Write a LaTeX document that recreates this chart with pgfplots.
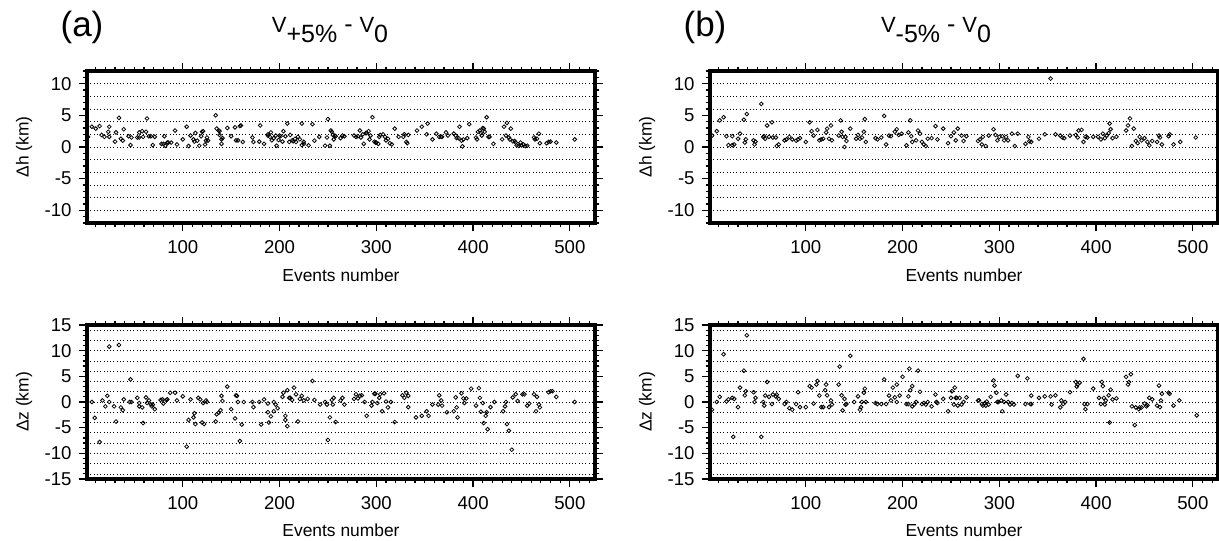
\documentclass[border=0pt]{standalone}
\usepackage{fontspec}
\setmainfont{Liberation Sans}
\usepackage{pgfplots}
\pgfplotsset{compat=1.18}

% GMT-like frame: thick box, outside ticks, dotted horizontal grid every 2
\pgfplotsset{
  gmt/.style={
    scale only axis, width=254pt, anchor=south west,
    xmin=1, xmax=526, clip mode=individual,
    xtick={100,200,300,400,500}, xticklabels={100,200,300,400,500},
    minor xtick={10,20,...,520},
    tick align=outside,
    major tick length=4.2pt, minor tick length=2.2pt,
    tick style={black, line width=0.6pt},
    axis line style={line width=1.5pt},
    tick label style={font=\fontsize{9.3}{11}\selectfont},
    xticklabel style={yshift=-1pt},
    label style={font=\fontsize{8.7}{10}\selectfont},
    xlabel={Events number},
    extra y tick labels={},
    extra y tick style={grid=major, major tick length=0pt},
    grid style={black, line width=0.35pt, dash pattern=on 0.4pt off 1.25pt},
  },
  pts/.style={black, only marks, mark=o, mark size=0.95pt, mark options={black, line width=0.4pt}},
  toprow/.style={
    height=76pt, ymin=-12, ymax=12,
    ytick={-10,-5,0,5,10}, yticklabels={-10,-5,0,5,10},
    minor ytick={-12,...,12}, extra y ticks={-10,-8,...,10},
    ylabel={Δh (km)},
    xlabel style={at={(axis description cs:0.5,-0.342)}, anchor=center},
    ylabel style={at={(axis description cs:-0.124,0.5)}, anchor=center},
  },
  botrow/.style={
    height=77pt, ymin=-15, ymax=15,
    ytick={-15,-10,-5,0,5,10,15}, yticklabels={-15,-10,-5,0,5,10,15},
    minor ytick={-15,...,15}, extra y ticks={-14,-12,...,14},
    ylabel={Δz (km)},
    xlabel style={at={(axis description cs:0.5,-0.331)}, anchor=center},
    ylabel style={at={(axis description cs:-0.124,0.5)}, anchor=center},
  },
}
\newcommand\frameit{\draw[line width=1.6pt, line join=miter] (rel axis cs:0,0) rectangle (rel axis cs:1,1);}

\begin{document}
\begin{tikzpicture}
\path[use as bounding box] (0,0) rectangle (609.5pt,270pt);

% (a) top: dh
\begin{axis}[gmt, toprow, at={(43.5pt,158.5pt)}]
\addplot[pts] coordinates {(2,1.6)(6,3.2)(10,2.9)(14,3.3)(16,1.9)(19,1.6)(23,2.4)(24,3.2)(24,1.6)(30,0.85)(31,2.3)(34,4.6)(36,1.3)(38,1.0)(39,2.8)(44,1.7)(46,0.3)(47,1.5)(53,1.5)(55,1.5)(55,2.3)(58,2.5)(59,1.6)(62,2.4)(63,4.5)(65,1.7)(67,1.7)(69,0.3)(71,1.6)(78,0.5)(80,0.5)(81,1.7)(82,0.2)(84,0.7)(85,0.7)(88,0.7)(92,2.6)(94,0.4)(100,1.2)(104,3.2)(106,0.15)(108,1.8)(111,1.2)(112,0.85)(113,2.2)(115,1.0)(117,0.2)(119,1.7)(120,2.4)(121,2.5)(123,0.4)(124,1.0)(125,1.5)(126,1.0)(134,5.0)(135,2.9)(137,2.6)(138,2.5)(138,1.9)(140,1.2)(140,0.5)(141,1.4)(146,3.0)(150,1.7)(154,3.1)(155,1.05)(157,1.05)(159,3.3)(160,3.4)(162,0.8)(172,1.5)(173,0.8)(179,0.85)(180,3.4)(184,0.5)(188,1.8)(188,2.0)(190,1.6)(191,2.3)(192,1.05)(194,1.4)(196,1.8)(197,0.2)(199,1.1)(200,1.8)(201,1.7)(203,0.85)(204,2.5)(206,1.7)(208,3.7)(210,0.8)(211,1.9)(213,1.05)(214,0.9)(216,1.3)(217,0.8)(219,1.6)(221,1.2)(223,0.3)(223,3.7)(225,0.8)(225,0.5)(230,0.26)(234,3.6)(236,1.0)(241,1.6)(247,0.2)(249,1.5)(250,4.4)(252,0.2)(253,2.6)(254,2.4)(255,1.9)(256,1.2)(257,1.8)(258,1.7)(263,1.4)(265,1.8)(267,1.7)(277,1.8)(279,1.6)(281,1.7)(283,2.6)(284,1.5)(286,2.0)(287,0.5)(289,2.2)(290,2.2)(292,2.5)(293,1.2)(294,1.8)(296,4.7)(298,0.85)(299,0.7)(300,0.7)(302,0.5)(303,1.6)(304,1.9)(307,2.0)(309,1.6)(310,1.05)(312,1.3)(314,0.6)(316,0.4)(319,2.9)(323,1.6)(328,1.6)(329,2.0)(331,0.8)(332,0.6)(333,1.9)(342,2.6)(347,3.2)(352,2.0)(353,3.7)(358,1.2)(362,2.1)(365,1.6)(367,1.6)(368,1.6)(372,2.3)(374,1.8)(380,2.1)(382,1.8)(383,1.4)(385,1.4)(386,3.2)(388,1.0)(389,0.1)(390,1.2)(394,1.4)(396,3.6)(403,1.5)(404,1.2)(405,2.4)(407,2.6)(408,2.2)(409,1.8)(410,3.0)(411,2.9)(412,2.4)(414,4.7)(416,1.6)(417,1.6)(421,0.5)(430,1.2)(432,3.2)(434,1.8)(435,3.8)(437,1.5)(438,1.2)(439,2.9)(441,0.9)(443,0.95)(444,0.7)(445,0.26)(447,0.2)(449,0.7)(450,0.26)(452,0.4)(454,0.15)(456,0.2)(463,1.5)(464,1.2)(466,1.3)(468,2.1)(469,0.6)(476,0.6)(478,0.8)(480,0.85)(486,0.7)(505,1.2)(526,0)};
\frameit
\end{axis}

% (b) top: dh
\begin{axis}[gmt, toprow, at={(355pt,158.5pt)}]
\addplot[pts] coordinates {(3,1.8)(8,2.5)(11,4.2)(15,4.7)(18,1.7)(20,0.3)(24,1.7)(24,0.3)(26,0.4)(30,1.3)(32,2.1)(36,4.3)(37,0.7)(38,1.2)(39,5.2)(46,1.05)(47,0.4)(48,0.85)(54,6.8)(56,1.6)(57,1.7)(58,1.3)(60,3.4)(62,1.6)(65,3.9)(66,1.5)(69,1.5)(70,0.15)(72,0.4)(78,1.05)(80,1.2)(83,1.6)(86,1.2)(90,1.0)(92,1.2)(94,1.4)(100,0.8)(104,3.9)(106,2.5)(108,1.8)(112,2.7)(114,1.05)(116,1.2)(118,1.3)(121,2.3)(122,2.9)(124,1.3)(126,3.4)(127,1.05)(134,1.8)(136,4.2)(137,2.4)(138,1.6)(140,0)(141,1.6)(142,0.95)(146,2.9)(152,1.3)(154,1.9)(156,1.3)(158,1.5)(160,2.4)(161,4.4)(162,0.8)(172,1.4)(174,1.2)(178,1.5)(181,4.9)(183,0.4)(186,1.8)(188,1.7)(192,2.4)(194,2.8)(196,1.9)(199,2.1)(204,0.26)(206,2.3)(208,4.2)(209,1.7)(210,0.8)(214,1.05)(216,2.6)(218,2.1)(220,0.8)(222,0.4)(224,0.15)(226,1.3)(230,1.4)(234,3.3)(236,1.2)(242,2.9)(247,0.6)(250,1.7)(253,2.3)(255,1.05)(257,2.9)(261,1.8)(263,0.95)(266,1.7)(278,0.95)(280,1.2)(282,0.4)(283,1.6)(286,0.15)(289,1.8)(294,2.8)(296,1.9)(298,1.05)(300,1.6)(303,1.7)(305,1.05)(307,1.6)(309,1.05)(313,2.1)(316,0.15)(319,2.1)(327,0.5)(330,1.6)(331,0.9)(333,0.8)(341,1.3)(347,2.0)(353,10.8)(358,2.0)(363,1.8)(365,1.5)(367,1.4)(373,1.8)(379,1.9)(381,1.5)(382,2.6)(385,2.7)(387,0.8)(389,1.6)(391,1.5)(397,1.6)(402,1.6)(405,1.2)(407,2.1)(409,1.4)(411,1.8)(413,2.2)(414,3.7)(415,2.8)(417,1.4)(421,1.6)(431,2.6)(433,3.4)(435,4.5)(437,0.15)(439,2.9)(441,0.95)(443,0.6)(445,1.6)(447,1.05)(450,1.4)(453,0.8)(455,0.26)(458,0.95)(463,0.8)(465,1.8)(466,1.5)(468,0.4)(475,1.7)(476,2.0)(480,0.4)(487,0.8)(503,1.5)(526,0)};
\frameit
\end{axis}

% (a) bottom: dz
\begin{axis}[gmt, botrow, at={(43.5pt,30.5pt)}]
\addplot[pts] coordinates {(1,0)(6,0)(9,-3.1)(14,-7.8)(17,0.3)(20,-0.85)(22,1.2)(24,10.8)(24,0)(29,-0.85)(31,-3.8)(34,11.1)(36,-1.05)(38,-1.6)(39,0.5)(45,0)(46,4.4)(47,0)(53,0.8)(55,-0.2)(55,-0.85)(58,-1.05)(59,-4.1)(62,0.9)(63,-0.2)(65,0.3)(67,-0.5)(68,-0.85)(69,-0.5)(71,-1.4)(77,0.4)(79,0.5)(80,-0.3)(83,0.4)(84,0.5)(87,1.8)(92,1.8)(94,0.3)(100,1.1)(104,-8.7)(106,-3.5)(108,0.5)(111,-3.0)(112,-2.2)(113,-4.3)(116,0.8)(118,0.5)(120,-4.0)(121,-0.2)(122,-4.3)(124,0.3)(125,0)(134,-3.8)(135,-2.4)(137,-2.1)(139,-1.6)(140,1.2)(141,0.2)(146,3.0)(150,-1.4)(154,-3.2)(155,1.3)(156,1.2)(157,0)(159,-7.6)(161,-4.4)(163,0)(172,0)(173,-1.0)(179,0)(181,-4.4)(184,0.5)(188,-2.0)(188,-0.3)(189,-4.0)(191,-2.8)(194,0)(194,-1.8)(196,-0.5)(198,-1.2)(203,1.0)(204,1.8)(206,-2.7)(206,-3.5)(208,-4.7)(208,2.3)(210,0.8)(211,0.8)(213,0.4)(215,2.8)(217,1.5)(219,-3.8)(221,0.6)(223,1.2)(225,0.3)(229,0.6)(234,4.1)(236,0.4)(242,-0.5)(247,0)(249,-0.5)(250,-7.4)(252,-3.0)(254,0.4)(255,-0.5)(256,0.8)(258,-3.9)(263,0.3)(265,0.8)(267,-0.5)(277,0.6)(279,1.5)(281,0.7)(283,1.2)(285,1.3)(288,0)(290,-2.7)(295,-0.7)(296,0)(298,1.6)(299,1.6)(301,-0.2)(303,0.8)(304,1.5)(306,-1.8)(308,1.7)(310,0.1)(312,-1.05)(315,0)(319,-3.9)(327,1.3)(329,0.8)(331,1.8)(333,-1.0)(333,1.2)(341,-3.0)(347,-2.7)(352,-1.8)(354,-2.7)(358,-0.5)(364,-0.5)(365,1.3)(367,0.3)(368,-0.7)(373,-2.0)(380,-1.8)(382,0.9)(383,-1.05)(384,-3.0)(388,1.7)(390,0.7)(391,-0.2)(393,0.7)(398,2.6)(403,-0.7)(406,2.7)(407,0.8)(408,-1.9)(410,-0.2)(411,-4.1)(413,-2.7)(414,-2.0)(415,-5.3)(418,-1.0)(422,0)(431,-1.8)(433,-0.85)(434,0)(435,-4.3)(437,-5.6)(440,-9.3)(441,0.9)(444,1.5)(446,0.2)(451,1.5)(453,1.5)(456,-0.7)(458,-0.3)(463,1.5)(465,-1.8)(466,1.0)(468,-0.5)(469,-1.05)(478,1.9)(480,2.1)(482,2.1)(486,1.0)(505,0)(526,0)};
\frameit
\end{axis}

% (b) bottom: dz
\begin{axis}[gmt, botrow, at={(355pt,30.5pt)}]
\addplot[pts] coordinates {(3,-1.5)(8,0)(11,1.0)(15,9.3)(18,0.1)(20,0.5)(24,0.8)(25,-6.8)(26,0.6)(30,-1.0)(32,2.8)(36,6.1)(37,1.3)(38,2.1)(39,13.0)(46,1.9)(47,0)(48,0.8)(54,-6.8)(56,0)(57,-0.7)(58,1.25)(60,3.9)(62,1.0)(65,-0.4)(66,1.45)(69,1.1)(70,1.45)(72,0.6)(78,-0.4)(80,0)(83,-1.2)(86,-1.5)(90,-0.4)(92,1.9)(94,-1.0)(100,-1.0)(104,3.1)(106,2.8)(108,-0.3)(111,3.4)(112,4.1)(114,1.25)(116,-1.0)(118,-1.0)(120,2.3)(121,3.4)(122,1.3)(124,-1.0)(126,0.3)(127,-0.5)(134,3.4)(135,6.9)(137,1.3)(138,-1.65)(140,0.6)(141,-0.5)(142,-0.4)(146,9.0)(150,0)(154,1.1)(156,-1.5)(157,-1.0)(158,0)(160,1.8)(161,2.6)(162,0)(172,-0.2)(174,-0.4)(178,-0.4)(181,4.4)(183,-0.4)(186,1.25)(188,0.3)(190,2.8)(192,0.9)(194,0)(194,3.4)(197,1.25)(200,4.9)(204,-0.4)(206,-0.4)(206,1.1)(207,6.5)(208,2.3)(210,3.1)(210,-0.85)(212,-0.5)(214,0)(216,6.1)(218,2.0)(220,-0.4)(222,-0.2)(224,-0.5)(226,0)(230,-0.85)(234,1.45)(235,0)(236,-0.2)(242,0.6)(247,-1.8)(250,0.8)(251,2.1)(253,-0.5)(254,2.8)(255,0.8)(256,0.8)(257,-0.7)(259,0.8)(261,-0.5)(263,0)(266,0.9)(278,0.3)(279,0.3)(282,-0.4)(283,-0.7)(285,-0.2)(286,-0.7)(287,0.1)(289,-0.5)(291,1.0)(294,4.2)(295,3.2)(297,1.8)(298,0)(299,0)(302,0.3)(303,-1.8)(305,0)(307,1.45)(309,0)(311,-0.5)(313,-0.2)(315,-0.5)(319,5.1)(327,-0.4)(329,4.6)(332,-0.4)(333,1.25)(333,-0.4)(341,0.8)(347,1.1)(353,1.1)(354,-0.5)(358,1.3)(363,-1.05)(364,0.3)(366,-0.4)(368,0)(373,1.9)(379,3.9)(380,3.0)(381,3.4)(383,3.75)(387,8.4)(388,-0.4)(389,-1.4)(391,-0.4)(397,2.6)(403,0.8)(405,-0.4)(406,3.9)(407,3.1)(408,0.8)(409,-0.5)(410,0.3)(413,1.3)(414,-4.0)(415,2.4)(417,0.5)(421,0.7)(431,4.9)(433,3.4)(434,3.9)(436,5.4)(437,-0.85)(440,-4.5)(441,-1.05)(444,-1.4)(445,-1.05)(447,-1.05)(450,-0.3)(452,-0.85)(453,-0.65)(455,0.8)(458,0.5)(463,-0.7)(465,3.2)(466,-1.0)(467,0.3)(468,1.6)(475,1.8)(476,1.6)(480,-0.7)(486,0.3)(504,-2.6)(526,0)};
\frameit
\end{axis}

% panel letters and titles
\node[font=\fontsize{17.5}{19}\selectfont] at (41pt,256.5pt) {(a)};
\node[font=\fontsize{17.5}{19}\selectfont] at (352.5pt,256.5pt) {(b)};
\node[anchor=base] at (165pt,253.5pt) {{\fontsize{11}{12}\selectfont V}\raisebox{-5pt}{\fontsize{12.5}{13}\selectfont +5\%}{\fontsize{12.5}{13}\selectfont\ -\ }{\fontsize{11}{12}\selectfont V}\raisebox{-5pt}{\fontsize{12.5}{13}\selectfont 0}};
\node[anchor=base] at (468pt,253.5pt) {{\fontsize{11}{12}\selectfont V}\raisebox{-5pt}{\fontsize{12.5}{13}\selectfont -5\%}{\fontsize{12.5}{13}\selectfont\ -\ }{\fontsize{11}{12}\selectfont V}\raisebox{-5pt}{\fontsize{12.5}{13}\selectfont 0}};
\end{tikzpicture}
\end{document}
